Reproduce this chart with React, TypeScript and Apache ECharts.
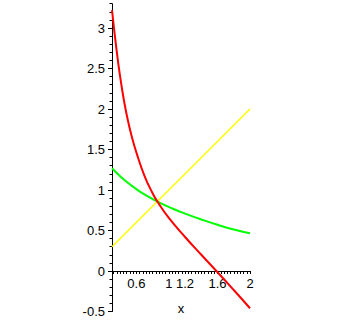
import React, { useEffect, useRef } from "react";
import * as echarts from "echarts";

const xMin = 0.3;
const xMax = 2;
const yMin = -0.5;
const yMax = 3.3;

const xLabelValues = [0.6, 1, 1.2, 1.6, 2];
const yLabelValues = [-0.5, 0, 0.5, 1, 1.5, 2, 2.5, 3];

const redX = [0.3, 0.35, 0.4, 0.45, 0.5, 0.55, 0.6, 0.7, 0.8, 0.86, 1.0, 1.2, 1.4, 1.6, 1.8, 2.0];
const redY = [3.22, 2.78, 2.4, 2.09, 1.84, 1.635, 1.465, 1.175, 0.96, 0.857, 0.655, 0.42, 0.2, -0.015, -0.235, -0.46];

const greenX = [0.3, 0.4, 0.5, 0.6, 0.7, 0.86, 1.05, 1.2, 1.4, 1.6, 1.8, 2.0];
const greenY = [1.268, 1.17, 1.085, 1.01, 0.945, 0.856, 0.768, 0.708, 0.636, 0.57, 0.512, 0.465];

const yellowX = [0.3, 2];
const yellowY = [0.3, 2];

function pairs(xs: number[], ys: number[]) {
  return xs.map((x, i) => [x, ys[i]]);
}

function steps(from: number, to: number, step: number) {
  const out: number[] = [];
  const n = Math.round((to - from) / step);
  for (let i = 0; i <= n; i++) out.push(Math.round((from + i * step) * 1000) / 1000);
  return out;
}

export default function App() {
  const ref = useRef<HTMLDivElement>(null);
  useEffect(() => {
    if (!ref.current) return;
    const chart = echarts.init(ref.current, undefined, { renderer: "svg" });
    const font = "Liberation Sans";
    const xTicks = steps(0.32, 2, 0.04);
    const yMinorTicks = steps(yMin, yMax, 0.1);
    const gridTop = 3.7;
    const gridBottom = 9.5;
    const plotH = 321 - gridTop - gridBottom;
    const zeroOffset = (plotH * (0 - yMin)) / (yMax - yMin);
    chart.setOption({
      animation: false,
      backgroundColor: "#ffffff",
      grid: { left: 112, right: 90, top: gridTop, bottom: gridBottom, outerBoundsMode: "none", containLabel: false },
      xAxis: {
        type: "value",
        min: xMin,
        max: xMax,
        position: "bottom",
        offset: -zeroOffset,
        name: "x",
        nameLocation: "middle",
        nameGap: 31,
        nameTextStyle: { color: "#000", fontFamily: font, fontSize: 13 },
        axisLine: { show: true, onZero: false, lineStyle: { color: "#000", width: 1 } },
        axisTick: { show: true, length: 3, customValues: xTicks, lineStyle: { color: "#000" } },
        axisLabel: {
          customValues: xLabelValues,
          color: "#000",
          fontFamily: font,
          fontSize: 13,
          margin: 6,
          formatter: (v: number) => String(v),
        },
        splitLine: { show: false },
      },
      yAxis: [
        {
          type: "value",
          min: yMin,
          max: yMax,
          axisLine: { show: true, onZero: false, lineStyle: { color: "#000", width: 1 } },
          axisTick: { show: true, length: 2.5, customValues: yMinorTicks, lineStyle: { color: "#000" } },
          axisLabel: {
            customValues: yLabelValues,
            color: "#000",
            fontFamily: font,
            fontSize: 13,
            margin: 7,
            formatter: (v: number) => String(v),
          },
          splitLine: { show: false },
        },
        {
          type: "value",
          min: yMin,
          max: yMax,
          position: "left",
          axisLine: { show: false },
          axisTick: { show: true, length: 4, customValues: yLabelValues, lineStyle: { color: "#000" } },
          axisLabel: { show: false },
          splitLine: { show: false },
        },
      ],
      series: [
        {
          type: "line",
          data: pairs(yellowX, yellowY),
          showSymbol: false,
          lineStyle: { color: "#ffff00", width: 1.5 },
          silent: true,
        },
        {
          type: "line",
          data: pairs(greenX, greenY),
          showSymbol: false,
          smooth: 0.5,
          lineStyle: { color: "#00ff00", width: 2 },
          silent: true,
        },
        {
          type: "line",
          data: pairs(redX, redY),
          showSymbol: false,
          smooth: 0.5,
          lineStyle: { color: "#ff0000", width: 2 },
          silent: true,
        },
      ],
    });
    return () => chart.dispose();
  }, []);
  return (
    <div
      ref={ref}
      style={{ position: "fixed", left: 0, top: 0, width: 340, height: 321, background: "#fff" }}
    />
  );
}
